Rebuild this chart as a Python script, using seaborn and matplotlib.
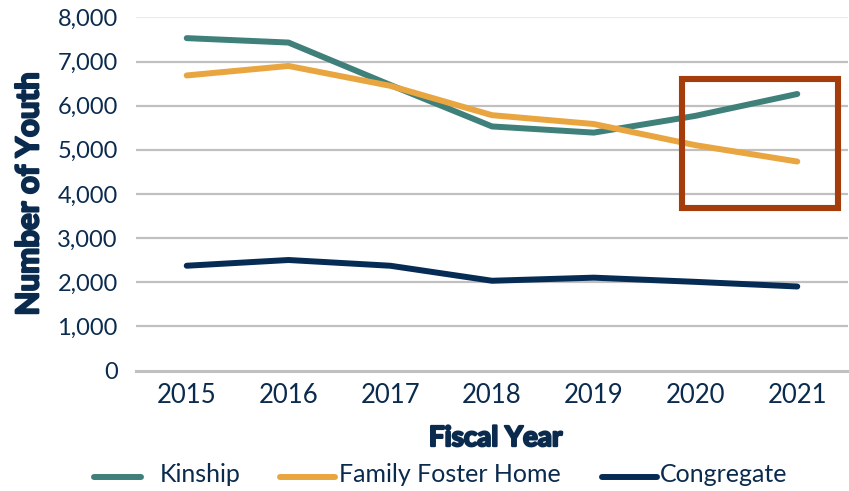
import matplotlib
matplotlib.use("Agg")
import matplotlib.pyplot as plt
import matplotlib.patheffects as pe
from matplotlib.patches import Rectangle
from matplotlib.lines import Line2D
from matplotlib.ticker import FuncFormatter
import seaborn as sns
import pandas as pd

years = [2015, 2016, 2017, 2018, 2019, 2020, 2021]
kinship = [7530, 7430, 6470, 5530, 5390, 5770, 6265]
family_foster = [6685, 6900, 6450, 5785, 5585, 5105, 4735]
congregate = [2375, 2505, 2375, 2035, 2105, 2010, 1905]
series_names = ["Kinship", "Family Foster Home", "Congregate"]
series_colors = ["#40807B", "#E9A540", "#062C55"]

text_color = "#0B2B4E"
grid_color = "#C0C0C0"

df = pd.DataFrame({
    "Fiscal Year": years * 3,
    "Number of Youth": kinship + family_foster + congregate,
    "Placement": sum([[n] * len(years) for n in series_names], []),
})

sns.set_theme(style="white")
plt.rcParams["font.family"] = ["Lato", "DejaVu Sans"]

W, H = 849, 491
fig = plt.figure(figsize=(W / 100, H / 100), dpi=100)
ax = fig.add_axes([0.160, 0.2452, 0.839, 0.7194])

sns.lineplot(
    data=df, x="Fiscal Year", y="Number of Youth", hue="Placement",
    hue_order=series_names, palette=series_colors, linewidth=4.3,
    ax=ax, legend=False, zorder=3,
)
for line in ax.get_lines():
    line.set_solid_capstyle("round")
    line.set_solid_joinstyle("round")

ax.set_xlim(2014.5, 2021.5)
ax.set_ylim(0, 8000)
ax.set_xticks(years)
ax.set_yticks(range(0, 8001, 1000))
ax.yaxis.set_major_formatter(FuncFormatter(lambda v, _: f"{int(v):,}"))

for v in range(1000, 8001, 1000):
    ax.axhline(v, color=grid_color if v < 8000 else "#EBEBEB",
               linewidth=1.6, zorder=1)

for side in ["top", "right", "left"]:
    ax.spines[side].set_visible(False)
ax.spines["bottom"].set_color(grid_color)
ax.spines["bottom"].set_linewidth(2.2)

ax.tick_params(axis="both", length=0, labelcolor=text_color)
ax.tick_params(axis="y", pad=13, labelsize=17)
ax.tick_params(axis="x", pad=9, labelsize=18.5)

# Extra-heavy axis titles: bold face thickened with a matching outline
heavy = [pe.Stroke(linewidth=1.6, foreground=text_color), pe.Normal()]
ax.set_xlabel("Fiscal Year", fontsize=20, fontweight="bold", color=text_color,
              path_effects=heavy)
ax.set_ylabel("Number of Youth", fontsize=22.5, fontweight="bold",
              color=text_color, path_effects=heavy)
ax.xaxis.label.set_va("center")
ax.yaxis.label.set_va("center")
ax.xaxis.set_label_coords(0.505, -0.191)
ax.yaxis.set_label_coords(-0.1496, 0.5)

# Highlight box around the two most recent years
box = Rectangle((2019.867, 3676), 1.534, 2930, fill=False,
                edgecolor="#A53C0B", linewidth=4.4, zorder=4,
                joinstyle="miter", clip_on=False)
ax.add_patch(box)

# Legend row beneath the axis title
legend_items = [
    (94, 141, 160),   # handle start, handle end, text start (pixels)
    (280, 335, 339),
    (602, 657, 660),
]
handle_y = 1 - 477 / H
text_y = 1 - 481.5 / H
for (x0, x1, xt), name, color in zip(legend_items, series_names, series_colors):
    fig.add_artist(Line2D([x0 / W, x1 / W], [handle_y, handle_y],
                          transform=fig.transFigure, color=color,
                          linewidth=4.3, solid_capstyle="round"))
    fig.text(xt / W, text_y, name, fontsize=18, color=text_color,
             ha="left", va="baseline")

fig.savefig("out.png", dpi=100)
